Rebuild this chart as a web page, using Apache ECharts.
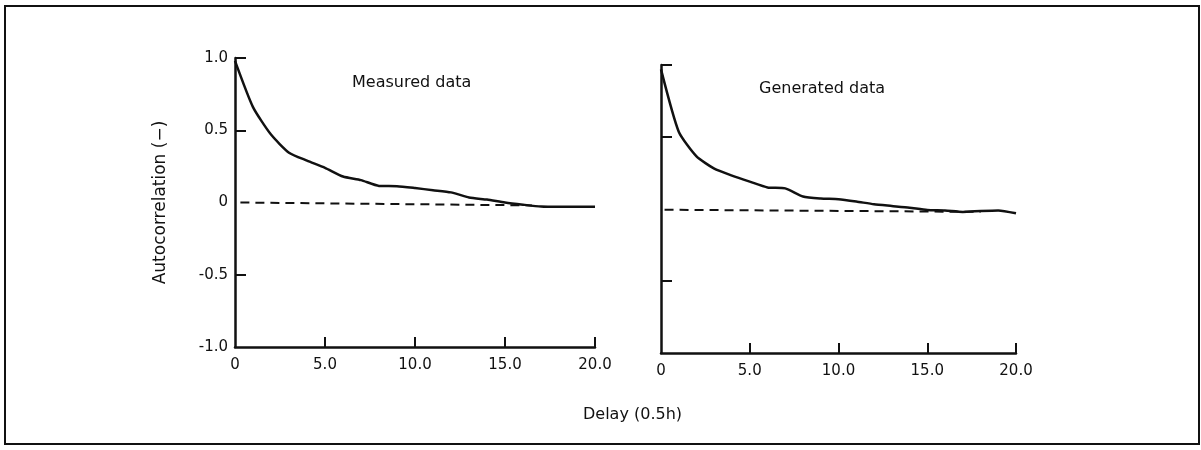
<!DOCTYPE html>
<html>
<head>
<meta charset="utf-8">
<script src="https://cdn.jsdelivr.net/npm/echarts@6/dist/echarts.min.js"></script>
<style>
  html, body { margin: 0; padding: 0; background: #fff; }
  #myChart { width: 1201px; height: 450px; }
</style>
</head>
<body>
<div id="myChart"></div>
<script>
// delay steps (0.5h)
var lags = [0, 1, 2, 3, 4, 5, 6, 7, 8, 9, 10, 11, 12, 13, 14, 15, 16, 17, 18, 19, 20];
var measured = [0.98, 0.66, 0.47, 0.345, 0.29, 0.24, 0.18, 0.155, 0.115, 0.113, 0.10, 0.085, 0.07, 0.035, 0.02, 0.0, -0.015, -0.028, -0.03, -0.03, -0.03];
var generated = [0.97, 0.537, 0.366, 0.28, 0.232, 0.19, 0.15, 0.143, 0.087, 0.073, 0.068, 0.052, 0.033, 0.021, 0.009, -0.007, -0.01, -0.02, -0.014, -0.01, -0.03];
// zero reference (dashed)
var zeroMeasuredX = [0.3, 16.5];
var zeroMeasuredY = [0, -0.02];
var zeroGeneratedX = [0.2, 18];
var zeroGeneratedY = [-0.005, -0.02];
var yTicks = [-1, -0.5, 0, 0.5, 1];
var yTickLabels = ["-1.0", "-0.5", "0", "0.5", "1.0"];
var xTicks = [0, 5, 10, 15, 20];
var xTickLabels = ["0", "5.0", "10.0", "15.0", "20.0"];

function pairs (xs, ys) {
  return xs.map(function (x, i) { return [x, ys[i]]; });
}

var font = "DejaVu Sans";
var ink = "#111";

function xAxis (idx) {
  return {
    type: "value",
    gridIndex: idx,
    min: 0,
    max: 20,
    interval: 5,
    axisLine: { onZero: false, lineStyle: { color: ink, width: 2.5 } },
    axisTick: { inside: true, length: 10, customValues: [5, 10, 15, 20], lineStyle: { color: ink, width: 2 } },
    axisLabel: {
      color: ink, fontFamily: font, fontSize: 15, margin: 11,
      customValues: xTicks,
      formatter: function (v) { return xTickLabels[xTicks.indexOf(v)]; }
    },
    splitLine: { show: false }
  };
}

function yAxis (idx, showLabels) {
  var ax = {
    type: "value",
    gridIndex: idx,
    min: -1,
    max: 1,
    interval: 0.5,
    axisLine: { show: true, lineStyle: { color: ink, width: 2.5 } },
    axisTick: { show: true, inside: true, length: 11, customValues: [-0.5, 0.5, 1], lineStyle: { color: ink, width: 2 } },
    axisLabel: {
      show: showLabels, color: ink, fontFamily: font, fontSize: 15, margin: 7,
      formatter: function (v) { return yTickLabels[yTicks.indexOf(v)]; }
    },
    splitLine: { show: false }
  };
  if (showLabels) {
    ax.name = "Autocorrelation (\u2212)";
    ax.nameLocation = "middle";
    ax.nameRotate = 90;
    ax.nameGap = 66;
    ax.nameTextStyle = { color: ink, fontFamily: font, fontSize: 17 };
  }
  return ax;
}

var myChart = echarts.init(document.getElementById("myChart"));
myChart.setOption({
  backgroundColor: "#fff",
  animation: false,
  title: [
    { text: "Measured data", left: 347, top: 70, textStyle: { color: ink, fontFamily: font, fontSize: 16, fontWeight: "normal" } },
    { text: "Generated data", left: 754, top: 76, textStyle: { color: ink, fontFamily: font, fontSize: 16, fontWeight: "normal" } },
    { text: "Delay (0.5h)", left: 578, top: 402, textStyle: { color: ink, fontFamily: font, fontSize: 16, fontWeight: "normal" } }
  ],
  graphic: [
    { type: "rect", shape: { x: 5, y: 6, width: 1194, height: 438 }, style: { fill: "none", stroke: ink, lineWidth: 2 }, silent: true }
  ],
  grid: [
    { left: 235, top: 58, width: 360, height: 289 },
    { left: 661, top: 65, width: 355, height: 288 }
  ],
  xAxis: [xAxis(0), xAxis(1)],
  yAxis: [yAxis(0, true), yAxis(1, false)],
  series: [
    {
      name: "Measured", type: "line", xAxisIndex: 0, yAxisIndex: 0,
      data: pairs(lags, measured), showSymbol: false, smooth: 0.2,
      lineStyle: { color: ink, width: 2.5 }
    },
    {
      name: "Measured zero", type: "line", xAxisIndex: 0, yAxisIndex: 0,
      data: pairs(zeroMeasuredX, zeroMeasuredY), showSymbol: false,
      lineStyle: { color: ink, width: 2, type: [9, 6] }
    },
    {
      name: "Generated", type: "line", xAxisIndex: 1, yAxisIndex: 1,
      data: pairs(lags, generated), showSymbol: false, smooth: 0.2,
      lineStyle: { color: ink, width: 2.5 }
    },
    {
      name: "Generated zero", type: "line", xAxisIndex: 1, yAxisIndex: 1,
      data: pairs(zeroGeneratedX, zeroGeneratedY), showSymbol: false,
      lineStyle: { color: ink, width: 2, type: [9, 6] }
    }
  ]
});
</script>
</body>
</html>
